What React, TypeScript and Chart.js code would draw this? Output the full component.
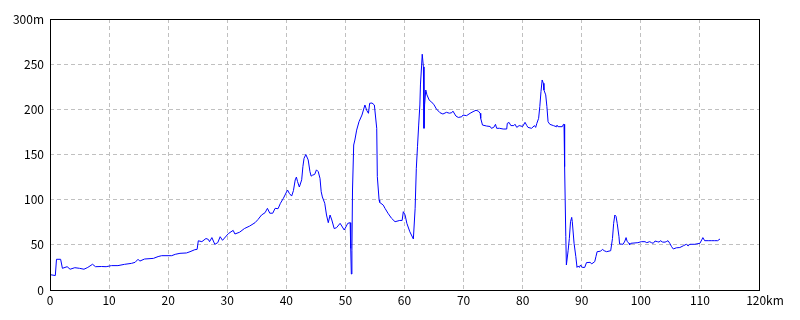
import React, { useEffect, useRef } from "react";
import { Chart, registerables } from "chart.js";

Chart.register(...registerables);

const km: number[] = [
  0, 0.9, 1.1, 1.8, 2.1, 2.9, 3.4, 4.2, 5.0, 5.75,
  6.4, 7.2, 7.7, 8.7, 9.5, 10.4, 11.5, 12.6, 13.8, 14.4,
  14.9, 15.2, 16.0, 17.5, 18.3, 18.9, 20.6, 21.2, 22.0, 23.1,
  23.7, 24.5, 24.9, 25.1, 25.7, 26.4, 26.8, 27.0, 27.4, 27.9,
  28.4, 28.8, 29.2, 30.2, 31.0, 31.3, 32.1, 32.9, 33.8, 34.7,
  35.2, 35.8, 36.4, 36.8, 37.2, 37.7, 38.1, 38.6, 39.0, 39.5,
  40.2, 40.5, 40.9, 41.2, 41.5, 41.7, 41.9, 42.2, 42.6, 42.8,
  43.0, 43.3, 43.7, 44.0, 44.2, 44.4, 44.8, 45.1, 45.4, 45.7,
  45.9, 46.1, 46.5, 46.8, 47.1, 47.4, 47.7, 48.1, 48.5, 49.1,
  49.8, 50.4, 50.8, 50.9, 51.0, 51.1, 51.2, 51.4, 51.6, 51.9,
  52.3, 52.8, 53.3, 53.6, 53.9, 54.1, 54.5, 54.9, 55.3, 55.4,
  55.7, 55.8, 56.4, 56.7, 57.2, 57.8, 58.4, 59.2, 59.6, 59.8,
  60.1, 60.4, 60.9, 61.5, 61.8, 62.0, 62.2, 62.4, 62.6, 62.7,
  62.9, 63.0, 63.2, 63.3, 63.4, 63.6, 63.8, 64.2, 64.6, 65.0,
  65.4, 66.0, 66.5, 67.1, 67.6, 68.0, 68.2, 68.7, 69.1, 69.7,
  69.9, 70.5, 71.1, 71.6, 72.1, 72.5, 72.8, 72.9, 73.2, 73.9,
  74.5, 74.7, 75.1, 75.4, 75.6, 76.1, 76.7, 77.3, 77.4, 77.7,
  78.0, 78.5, 78.7, 79.0, 79.4, 80.0, 80.4, 80.7, 80.9, 81.5,
  82.0, 82.2, 82.4, 82.7, 82.9, 83.1, 83.3, 83.5, 83.6, 83.9,
  84.1, 84.3, 84.6, 85.2, 85.7, 85.8, 86.0, 86.7, 86.9, 87.0,
  87.1, 87.3, 87.4, 87.5, 87.7, 87.9, 88.1, 88.3, 88.4, 88.7,
  89.0, 89.2, 89.4, 89.6, 89.8, 90.1, 90.5, 90.8, 91.4, 91.7,
  92.2, 92.4, 92.6, 93.2, 93.5, 93.8, 94.2, 94.9, 95.2, 95.4,
  95.6, 95.8, 96.0, 96.3, 96.4, 97.0, 97.3, 97.5, 97.7, 98.0,
  98.1, 98.3, 99.5, 100.1, 100.7, 101.0, 101.5, 101.8, 102.1, 102.4,
  102.8, 103.1, 103.3, 103.7, 104.1, 104.3, 104.6, 104.9, 105.2, 105.5,
  106.0, 106.6, 107.2, 107.7, 108.0, 108.3, 109.1, 110.0, 110.3, 110.5,
  110.8, 111.4, 112.0, 112.5, 113.0, 113.4,
];

const elevation: number[] = [
  17, 16, 34, 34, 24, 25.8, 23, 24.7, 24, 23,
  25, 28.5, 25.8, 26, 25.8, 27, 27, 28.4, 29.5, 30.6,
  34, 32, 34.3, 35, 37, 38, 38, 39.5, 40.6, 41,
  42.4, 44.6, 45, 54.5, 53.5, 57, 56, 53.5, 58, 50.5,
  52.5, 59, 55, 62.5, 66, 62, 64, 68, 70.8, 74.5,
  78, 83, 85.6, 90.4, 85, 85, 90.4, 90, 96, 101.5,
  110.7, 107, 104, 110, 121.8, 125, 120, 114, 122, 136.5,
  145.8, 150, 144, 131, 126, 127, 128, 133, 131, 123.6,
  108.8, 103, 96, 83, 74.5, 83, 77.5, 68, 69, 73.8,
  66.4, 73.8, 74.5, 46, 17.7, 44, 110.7, 160.5, 166, 177,
  186.3, 193.7, 204.8, 199, 195.6, 206.7, 207, 204.8, 179, 125.5,
  99.6, 97, 94, 90.4, 85, 79.4, 75.6, 77, 77, 86.7,
  83, 73.8, 64.5, 56.5, 90.4, 134.7, 158.6, 182.6, 204.8, 227,
  249, 261, 247, 179, 205, 221.4, 216, 210, 208, 205,
  200.4, 196.3, 194.8, 196.7, 195.7, 196.3, 198, 192.6, 191, 191.8,
  193.7, 193, 195.6, 197.4, 199, 198, 195.6, 190, 182.6, 181.5,
  181, 179, 180, 183.4, 179, 179, 178.2, 178.2, 184.5, 185.5,
  182, 182, 183.5, 180, 182, 181, 185.6, 182, 180, 179,
  182, 180, 184.5, 190, 203, 219.5, 232.5, 228.8, 221.4, 216,
  203, 186.3, 183.4, 182, 180.8, 182.5, 180.8, 180.8, 183.4, 183.4,
  136.5, 59, 27.7, 27.7, 44, 57, 75.6, 80.4, 75.6, 51.7,
  36.9, 25, 26.6, 25, 27.7, 25, 25, 30.3, 30.6, 29,
  31.4, 36.9, 42.4, 43, 45, 43.5, 42.4, 43.5, 57, 73.8,
  83, 81.5, 73.8, 59, 51, 50.6, 54.2, 58, 53.5, 51.7,
  49.8, 51.7, 52.4, 53.5, 53.5, 52.4, 53.5, 52.4, 51.7, 54.2,
  53.5, 53, 54.6, 53, 53, 53.5, 54.6, 51.7, 48, 45.4,
  46.7, 47, 49, 50.6, 48.8, 50.6, 50.6, 51.7, 55.4, 58,
  54.6, 54.6, 54.6, 54.6, 54.6, 56.5,
];

const xMin = 0;
const xMax = 120;
const xStep = 10;
const yMin = 0;
const yMax = 300;
const yStep = 50;
const xUnit = "km";
const yUnit = "m";

const FONT = '"Noto Sans CJK JP", "Noto Sans", sans-serif';

const frame = {
  id: "frame",
  afterDraw(chart: any) {
    const { ctx, chartArea } = chart;
    ctx.save();
    ctx.strokeStyle = "#000";
    ctx.lineWidth = 1;
    ctx.strokeRect(
      Math.round(chartArea.left) + 0.5,
      Math.round(chartArea.top) + 0.5,
      Math.round(chartArea.right - chartArea.left),
      Math.round(chartArea.bottom - chartArea.top)
    );
    ctx.restore();
  },
};

export default function App() {
  const ref = useRef<HTMLCanvasElement | null>(null);

  useEffect(() => {
    if (!ref.current) return;
    const points = km.map((x, i) => ({ x, y: elevation[i] }));
    const chart = new Chart(ref.current, {
      type: "line",
      data: {
        datasets: [
          {
            data: points,
            borderColor: "#0000ff",
            borderWidth: 1,
            pointRadius: 0,
            tension: 0,
            fill: false,
          },
        ],
      },
      options: {
        animation: false,
        responsive: false,
        maintainAspectRatio: false,
        events: [],
        layout: { padding: { left: 0, right: 41, top: 19, bottom: 0 } },
        plugins: { legend: { display: false }, tooltip: { enabled: false } },
        scales: {
          x: {
            type: "linear",
            min: xMin,
            max: xMax,
            afterFit: (s: any) => {
              s.height = 30;
            },
            ticks: {
              stepSize: xStep,
              color: "#000",
              padding: 3,
              maxRotation: 0,
              autoSkip: false,
              font: { family: FONT, size: 12 },
              callback: (v: any) =>
                Number(v) === xMax ? "\u2002\u2002" + v + xUnit : String(v),
            },
            grid: { color: "#c0c0c0", drawTicks: false, lineWidth: 1 },
            border: { display: false, dash: [4, 3] },
          },
          y: {
            type: "linear",
            min: yMin,
            max: yMax,
            afterFit: (s: any) => {
              s.width = 50;
            },
            ticks: {
              stepSize: yStep,
              color: "#000",
              padding: 6,
              font: { family: FONT, size: 12 },
              callback: (v: any) =>
                Number(v) === yMax ? v + yUnit : String(v),
            },
            grid: { color: "#c0c0c0", drawTicks: false, lineWidth: 1 },
            border: { display: false, dash: [4, 3] },
          },
        },
      },
      plugins: [frame],
    });
    return () => chart.destroy();
  }, []);

  return (
    <div style={{ position: "absolute", left: 0, top: 0, width: 800, height: 320, background: "#fff" }}>
      <canvas ref={ref} width={800} height={320} style={{ display: "block" }} />
    </div>
  );
}
